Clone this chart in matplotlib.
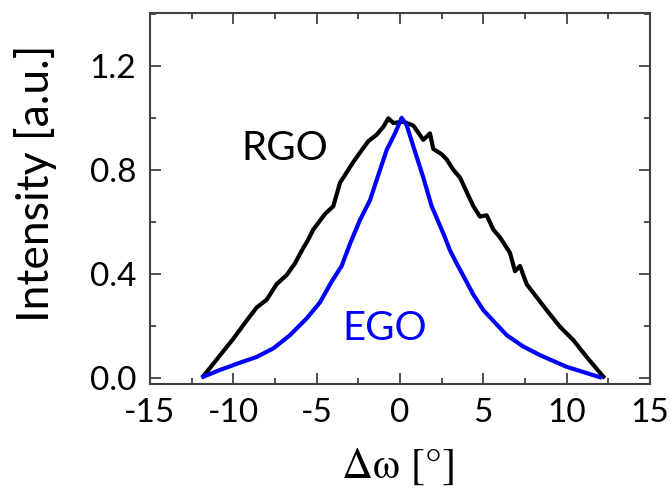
import matplotlib
matplotlib.use("Agg")
import matplotlib.pyplot as plt
from matplotlib.ticker import MultipleLocator

rgo_x = [-11.8, -10.8, -10.0, -9.2, -8.6, -8.0, -7.4, -6.8, -6.3, -5.8, -5.6, -5.2, -4.5, -4.0,
         -3.6, -3.2, -2.8, -2.3, -1.9, -1.4, -1.0, -0.7, -0.4, 0.2, 0.8, 1.4, 1.8, 2.0, 2.5, 2.8,
         3.2, 3.6, 4.0, 4.4, 4.8, 5.2, 5.6, 6.0, 6.4, 6.6, 6.9, 7.2, 7.6, 8.2, 8.8, 9.6, 10.4,
         11.2, 12.2]
rgo_y = [0.006, 0.086, 0.15, 0.22, 0.27, 0.30, 0.36, 0.395, 0.44, 0.50, 0.52, 0.57, 0.63, 0.66,
         0.75, 0.79, 0.83, 0.875, 0.91, 0.935, 0.965, 0.998, 0.98, 0.985, 0.97, 0.915, 0.94, 0.88,
         0.86, 0.84, 0.80, 0.77, 0.715, 0.66, 0.62, 0.625, 0.57, 0.54, 0.50, 0.48, 0.41, 0.43,
         0.36, 0.31, 0.26, 0.196, 0.145, 0.08, 0.004]

ego_x = [-11.8, -10.8, -9.6, -8.6, -7.6, -6.6, -5.6, -4.8, -4.1, -3.5, -3.0, -2.4, -1.8, -1.3,
         -0.8, -0.3, 0.1, 0.4, 0.8, 1.4, 1.9, 2.6, 3.0, 3.4, 4.4, 5.0, 6.4, 7.4, 8.4, 10.0, 12.0]
ego_y = [0.004, 0.03, 0.058, 0.08, 0.113, 0.164, 0.228, 0.29, 0.37, 0.43, 0.515, 0.607, 0.683,
         0.78, 0.876, 0.94, 1.0, 0.972, 0.89, 0.77, 0.66, 0.555, 0.49, 0.44, 0.32, 0.26, 0.164,
         0.12, 0.087, 0.042, 0.002]

x_ticks = [-15, -10, -5, 0, 5, 10, 15]
y_ticks = [0.0, 0.4, 0.8, 1.2]

sans = ['Lato', 'DejaVu Sans']
serif = ['STIXGeneral', 'Liberation Serif', 'DejaVu Serif']

fig = plt.figure(figsize=(6.71, 4.93), dpi=100)
ax = fig.add_axes([0.2235, 0.2211, 0.7452, 0.7525])

ax.plot(rgo_x, rgo_y, color='black', lw=3.0, solid_joinstyle='round')
ax.plot(ego_x, ego_y, color='#0000ff', lw=3.0, solid_joinstyle='round')

ax.set_xlim(-15, 15)
ax.set_ylim(-0.024, 1.403)
ax.set_xticks(x_ticks)
ax.set_yticks(y_ticks)
ax.set_xticklabels([str(v) for v in x_ticks], family=sans, fontsize=24)
ax.set_yticklabels([f"{v:.1f}" for v in y_ticks], family=sans, fontsize=24)
ax.xaxis.set_minor_locator(MultipleLocator(2.5))
ax.yaxis.set_minor_locator(MultipleLocator(0.2))
ax.tick_params(which='both', direction='in', top=True, right=True, color='#333333')
ax.tick_params(which='major', length=8, width=1.2, pad=10)
ax.tick_params(which='minor', length=4, width=1.2)
for s in ax.spines.values():
    s.set_linewidth(1.5)
    s.set_color('#404040')

fig.text(36 / 671, 1 - 183 / 493, 'Intensity [a.u.]', family=sans, fontsize=32,
         rotation=90, ha='center', va='center')
fig.text(399 / 671, 1 - 468 / 493, 'Δω [°]', family=serif, fontsize=31,
         ha='center', va='center')

ax.text(-6.9, 0.88, 'RGO', color='black', family=sans, fontsize=29, ha='center', va='center')
ax.text(-0.9, 0.19, 'EGO', color='#0000ff', family=sans, fontsize=29, ha='center', va='center')

fig.savefig('out.png', dpi=100)
